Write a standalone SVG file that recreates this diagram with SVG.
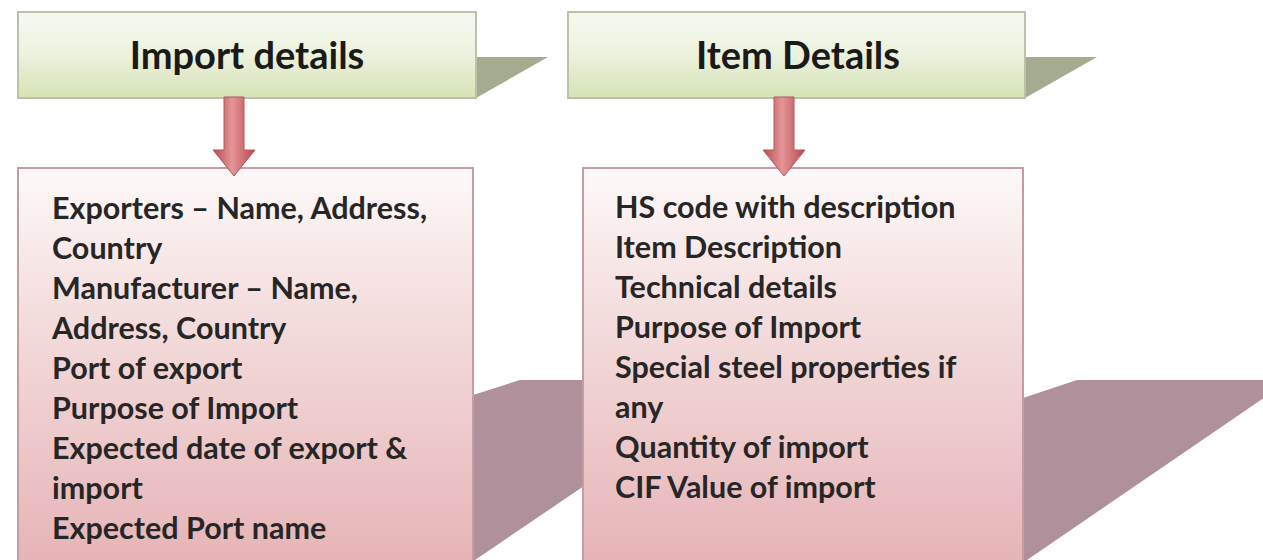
<svg xmlns="http://www.w3.org/2000/svg" width="1263" height="560" viewBox="0 0 1263 560">
<defs>
<linearGradient id="gHead" x1="0" y1="0" x2="0" y2="1">
<stop offset="0" stop-color="#f5f8ee"/>
<stop offset="0.45" stop-color="#eef3e0"/>
<stop offset="1" stop-color="#d6e2b6"/>
</linearGradient>
<linearGradient id="gBody" x1="0" y1="0" x2="0" y2="1">
<stop offset="0" stop-color="#fdf9f9"/>
<stop offset="0.35" stop-color="#f4dede"/>
<stop offset="1" stop-color="#e6b3b6"/>
</linearGradient>
<linearGradient id="gArrow" x1="0" y1="0" x2="1" y2="0">
<stop offset="0" stop-color="#b8484c"/>
<stop offset="0.45" stop-color="#e59598"/>
<stop offset="1" stop-color="#b8484c"/>
</linearGradient>
<style>
.head{fill:url(#gHead);stroke:#bcc2aa;stroke-width:2}
.body{fill:url(#gBody);stroke:#c49ca1;stroke-width:2}
.hshadow{fill:#a4ab8f}
.bshadow{fill:#b0909a}
.arrow{fill:url(#gArrow);stroke:#b0585c;stroke-width:1}
.ht{font-family:Lato,"Liberation Sans",sans-serif;font-weight:700;font-size:38px;fill:#1a1a1a;text-anchor:middle}
.bt{font-family:Lato,"Liberation Sans",sans-serif;font-weight:700;font-size:30.5px;fill:#262626}
</style>
</defs>
<rect width="1263" height="560" fill="#ffffff"/>
<g id="shadows">
<polygon class="bshadow" points="473,395 520,380 740,380 475,560 473,560"/>
<polygon class="bshadow" points="1023,398 1077,380 1290,380 1027,560 1023,560"/>
<polygon class="hshadow" points="476,57 548,57 476,98"/>
<polygon class="hshadow" points="1025,57 1097,57 1025,98"/>
</g>
<g id="import-details">
<rect class="head" x="18" y="12" width="458" height="86"/>
<text class="ht" x="247" y="69">Import details</text>
</g>
<g id="item-details">
<rect class="head" x="568" y="12" width="457" height="86"/>
<text class="ht" x="798" y="69">Item Details</text>
</g>
<g id="import-list">
<rect class="body" x="18" y="168" width="455" height="400"/>
<text class="bt" x="52" y="219">Exporters – Name, Address,</text>
<text class="bt" x="52" y="259">Country</text>
<text class="bt" x="52" y="299">Manufacturer – Name,</text>
<text class="bt" x="52" y="339">Address, Country</text>
<text class="bt" x="52" y="379">Port of export</text>
<text class="bt" x="52" y="419">Purpose of Import</text>
<text class="bt" x="52" y="459">Expected date of export &amp;</text>
<text class="bt" x="52" y="499">import</text>
<text class="bt" x="52" y="539">Expected Port name</text>
</g>
<g id="item-list">
<rect class="body" x="583" y="168" width="440" height="400"/>
<text class="bt" x="615" y="218">HS code with description</text>
<text class="bt" x="615" y="258">Item Description</text>
<text class="bt" x="615" y="298">Technical details</text>
<text class="bt" x="615" y="338">Purpose of Import</text>
<text class="bt" x="615" y="378">Special steel properties if</text>
<text class="bt" x="615" y="418">any</text>
<text class="bt" x="615" y="458">Quantity of import</text>
<text class="bt" x="615" y="498">CIF Value of import</text>
</g>
<g id="connectors">
<polygon class="arrow" points="224,97 244,97 244,150 255,150 234,176 213,150 224,150"/>
<polygon class="arrow" points="774,97 794,97 794,150 805,150 784,176 763,150 774,150"/>
</g>
</svg>
